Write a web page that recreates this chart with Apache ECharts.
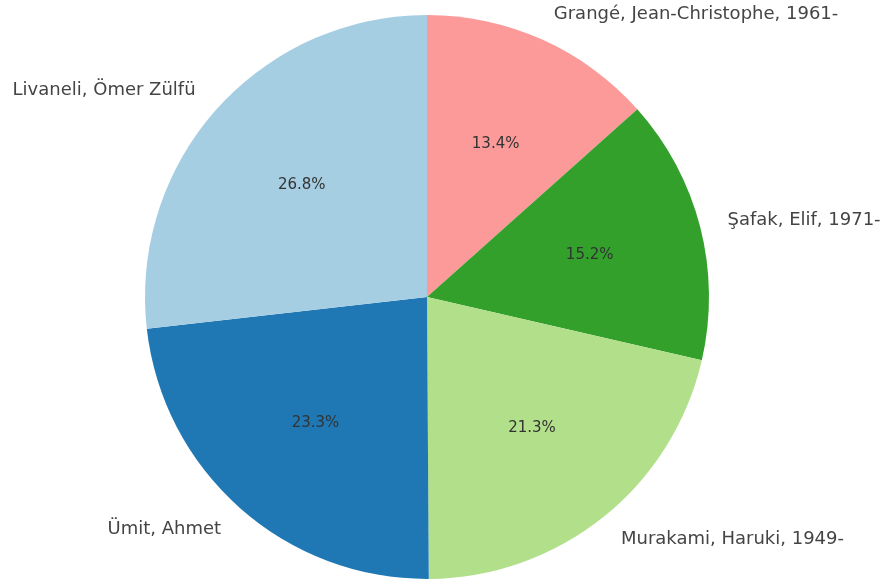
<!DOCTYPE html>
<html>
<head>
<meta charset="utf-8">
<script src="https://cdn.jsdelivr.net/npm/echarts@6/dist/echarts.min.js"></script>
<style>
  html, body { margin: 0; padding: 0; background: #fff; }
  #chart { width: 885px; height: 587px; }
</style>
</head>
<body>
<div id="chart"></div>
<script>
// authors, clockwise from 12 o'clock
const authors = ['Grangé, Jean-Christophe, 1961-', 'Şafak, Elif, 1971-', 'Murakami, Haruki, 1949-', 'Ümit, Ahmet', 'Livaneli, Ömer Zülfü'];
const shares = [13.4, 15.2, 21.3, 23.3, 26.8];
const colors = ['#fb9a99', '#33a02c', '#b2df8a', '#1f78b4', '#a6cee3'];

const R = 282; // pie radius in px
const center = [427, 297];
const font = 'DejaVu Sans';

const pieData = authors.map((name, i) => ({
  name,
  value: shares[i],
  itemStyle: { color: colors[i] },
}));

const chart = echarts.init(document.getElementById('chart'));
chart.setOption({
  backgroundColor: '#fff',
  animation: false,
  series: [
    {
      // the pie itself, author names outside (about 1.1 r)
      type: 'pie',
      center,
      radius: [0, R],
      startAngle: 90,
      clockwise: true,
      avoidLabelOverlap: false,
      data: pieData,
      itemStyle: { borderWidth: 0 },
      label: {
        show: true,
        position: 'outside',
        formatter: '{b}',
        fontFamily: font,
        fontSize: 18,
        color: '#444',
        distanceToLabelLine: 0,
      },
      labelLine: { show: false, length: R * 0.1, length2: 0 },
      emphasis: { disabled: true },
    },
    {
      // invisible copy, only used to put the percentages near 0.6 r
      type: 'pie',
      center,
      radius: [0, R * 1.17],
      startAngle: 90,
      clockwise: true,
      silent: true,
      z: 3,
      data: authors.map((name, i) => ({ name, value: shares[i] })),
      itemStyle: { color: 'rgba(0,0,0,0)', borderWidth: 0 },
      label: {
        show: true,
        position: 'inside',
        formatter: (p) => p.value.toFixed(1) + '%',
        fontFamily: font,
        fontSize: 15,
        color: '#333',
      },
      labelLine: { show: false },
      emphasis: { disabled: true },
    },
  ],
});
</script>
</body>
</html>
